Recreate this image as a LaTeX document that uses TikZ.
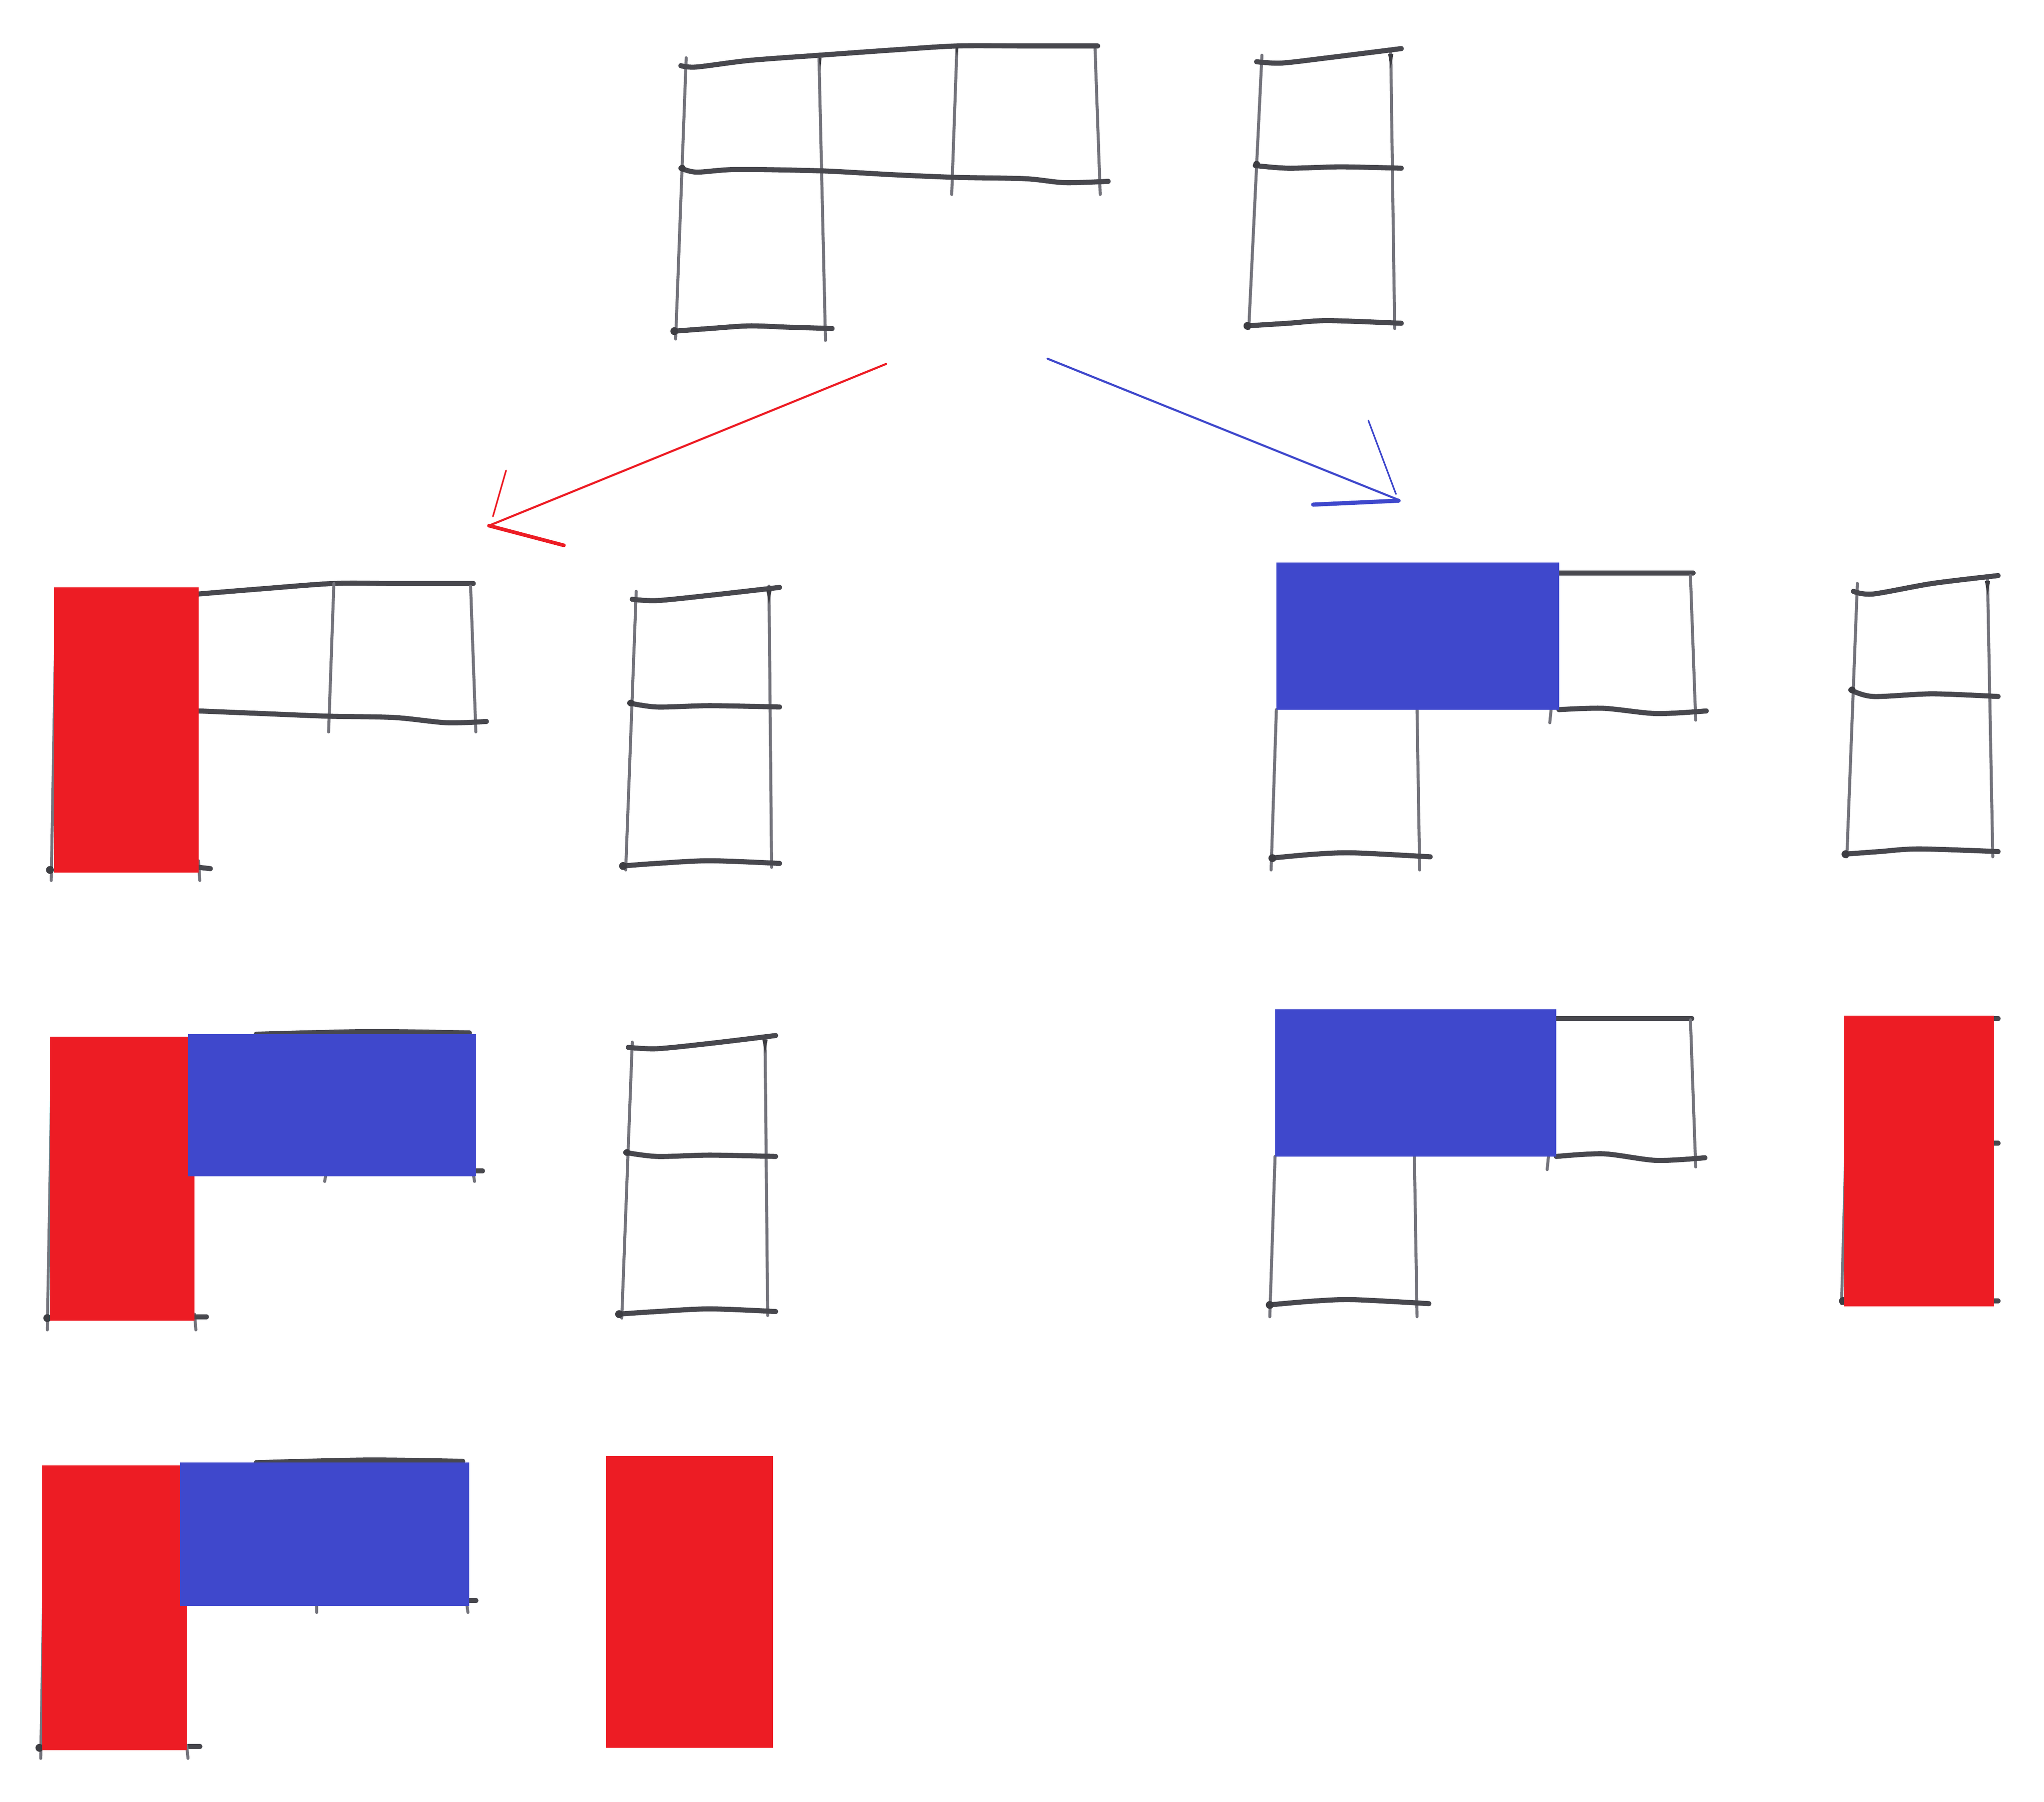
\documentclass[tikz,border=0pt]{standalone}
\usetikzlibrary{calc}
\definecolor{pencil}{HTML}{48484E}
\definecolor{pencilv}{HTML}{74747C}
\definecolor{pred}{HTML}{ED1C24}
\definecolor{pblue}{HTML}{3F48CC}
\tikzset{
  hline/.style={draw=pencil,line width=1.1pt,line cap=round,line join=round},
  vline/.style={draw=pencilv,line width=0.65pt,line cap=round},
  blob/.style={fill=pencil!85!black,draw=none},
  redbox/.style={fill=pred,draw=none},
  bluebox/.style={fill=pblue,draw=none},
  redarrow/.style={draw=pred,line width=0.45pt,line cap=round},
  bluearrow/.style={draw=pblue,line width=0.45pt,line cap=round},
}
\begin{document}
\begin{tikzpicture}[x=0.01cm,y=-0.01cm]
\useasboundingbox (0,0) rectangle (1555,1371);

% ---------- Figure A (top L shape)
\draw[vline] (522,44) -- (514,258);
\draw[vline] (623,42) -- (628,259);
\draw[vline] (728,35) -- (724,148);
\draw[vline] (833,35) -- (837,148);
\draw[hline] plot[smooth] coordinates {(518,50) (530,51) (570,46) (624,42) (680,38) (728,35) (780,35) (835,35)};
\draw[hline] plot[smooth] coordinates {(518,128) (530,131) (560,129) (624,130) (680,133) (728,135) (780,136) (810,139) (843,138)};
\draw[hline] plot[smooth] coordinates {(513,252) (540,250) (570,248) (600,249) (633,250)};
\fill[blob] (519,128) circle (2.6);
\fill[blob] (513,252) circle (3);
\fill[blob] (623,44) -- (625,44) -- (624,54) -- cycle;
\fill[blob] (727,36) -- (729,36) -- (728,44) -- cycle;

% ---------- Figure B (top column)
\draw[vline] (960,42) -- (950,250);
\draw[vline] (1058,38) -- (1061,250);
\draw[hline] plot[smooth] coordinates {(956,47) (975,48) (1010,44) (1066,37)};
\draw[hline] plot[smooth] coordinates {(955,126) (980,128) (1020,127) (1066,128)};
\draw[hline] plot[smooth] coordinates {(948,248) (980,246) (1010,244) (1066,246)};
\fill[blob] (956,125) circle (2.6);
\fill[blob] (949,248) circle (3);
\fill[blob] (1056,41) -- (1060,41) -- (1058,52) -- cycle;

% ---------- Arrows
\coordinate (rs) at (674,277);
\coordinate (rt) at (372,400);
\coordinate (rb1) at (385,358);
\coordinate (rb1e) at (375,393);
\coordinate (rb2) at (429,415);
\draw[redarrow] (rs) -- (rt);
\draw[redarrow,line width=0.35pt] (rb1) -- (rb1e);
\draw[redarrow,line width=0.8pt] (rt) -- (rb2);

\coordinate (bs) at (797,273);
\coordinate (bt) at (1063,380);
\coordinate (bb1) at (1041,320);
\coordinate (bb1e) at (1062,376);
\coordinate (bb2) at (999,384);
\coordinate (bb2e) at (1064,381);
\draw[bluearrow] (bs) -- (bt);
\draw[bluearrow,line width=0.35pt] (bb1) -- (bb1e);
\draw[bluearrow,line width=0.9pt] (bb2) -- (bb2e);

% ---------- Figure C
\draw[hline] plot[smooth] coordinates {(151,452) (200,448) (254,444) (300,444) (360,444)};
\draw[vline] (254,444) -- (250,557);
\draw[vline] (358,446) -- (362,557);
\draw[hline] plot[smooth] coordinates {(151,541) (200,543) (250,545) (300,546) (340,550) (370,549)};
\draw[vline] (43,450) -- (39,670);
\draw[vline] (151,655) -- (152,670);
\draw[hline] (151,660) -- (160,661);
\fill[blob] (38,662) circle (3);
\fill[redbox] (41,447) rectangle (151,664);

% ---------- Figure D
\draw[vline] (484,450) -- (476,662);
\draw[vline] (585,446) -- (587,660);
\draw[hline] plot[smooth] coordinates {(481,456) (500,457) (540,453) (593,447)};
\draw[hline] plot[smooth] coordinates {(479,535) (500,538) (540,537) (593,538)};
\draw[hline] plot[smooth] coordinates {(473,659) (500,657) (540,655) (593,657)};
\fill[blob] (480,535) circle (2.6);
\fill[blob] (474,659) circle (3);
\fill[blob] (583,449) -- (587,449) -- (585,460) -- cycle;

% ---------- Figure E
\draw[hline] plot[smooth] coordinates {(1186,436) (1240,436) (1288,436)};
\draw[vline] (1286,438) -- (1290,548);
\draw[hline] plot[smooth] coordinates {(1186,540) (1220,539) (1260,543) (1298,541)};
\draw[vline] (1180,540) -- (1179,550);
\draw[vline] (971,540) -- (967,662);
\draw[vline] (1078,540) -- (1080,662);
\draw[hline] plot[smooth] coordinates {(967,653) (1000,650) (1030,649) (1088,652)};
\fill[blob] (968,653) circle (3);
\fill[bluebox] (971,428) rectangle (1186,540);

% ---------- Figure F
\draw[vline] (1413,444) -- (1405,652);
\draw[vline] (1512,440) -- (1516,652);
\draw[hline] plot[smooth] coordinates {(1410,450) (1425,452) (1470,444) (1520,438)};
\draw[hline] plot[smooth] coordinates {(1408,525) (1425,530) (1470,528) (1520,530)};
\draw[hline] plot[smooth] coordinates {(1403,650) (1430,648) (1460,646) (1520,648)};
\fill[blob] (1409,525) circle (2.6);
\fill[blob] (1404,650) circle (3);
\fill[blob] (1510,442) -- (1514,442) -- (1512,453) -- cycle;

% ---------- Figure G
\draw[hline] plot[smooth] coordinates {(195,787) (280,785) (357,786)};
\draw[vline] (248,893) -- (247,899);
\draw[vline] (360,893) -- (361,899);
\draw[hline] (360,891) -- (367,891);
\draw[vline] (40,792) -- (36,1012);
\draw[vline] (148,1000) -- (149,1012);
\draw[hline] (148,1002) -- (157,1002);
\fill[blob] (36,1003) circle (3);
\fill[redbox] (38,789) rectangle (148,1005);
\fill[bluebox] (143,787) rectangle (362,895);

% ---------- Figure H
\draw[vline] (481,793) -- (473,1003);
\draw[vline] (582,789) -- (584,1001);
\draw[hline] plot[smooth] coordinates {(478,797) (500,798) (540,794) (590,788)};
\draw[hline] plot[smooth] coordinates {(476,877) (500,880) (540,879) (590,880)};
\draw[hline] plot[smooth] coordinates {(470,1000) (500,998) (540,996) (590,998)};
\fill[blob] (477,877) circle (2.6);
\fill[blob] (471,1000) circle (3);
\fill[blob] (580,791) -- (584,791) -- (582,802) -- cycle;

% ---------- Figure I
\draw[hline] plot[smooth] coordinates {(1184,775) (1240,775) (1287,775)};
\draw[vline] (1286,776) -- (1290,888);
\draw[hline] plot[smooth] coordinates {(1184,880) (1220,878) (1260,883) (1297,881)};
\draw[vline] (1178,880) -- (1177,890);
\draw[vline] (970,880) -- (966,1002);
\draw[vline] (1076,880) -- (1078,1002);
\draw[hline] plot[smooth] coordinates {(965,993) (1000,990) (1030,989) (1087,992)};
\fill[blob] (966,993) circle (3);
\fill[bluebox] (970,768) rectangle (1184,880);

% ---------- Figure J
\draw[vline] (1407,776) -- (1401,992);
\draw[hline] (1515,775) -- (1520,775);
\draw[hline] (1515,870) -- (1520,870);
\draw[hline] (1515,990) -- (1520,990);
\fill[blob] (1402,990) circle (3);
\fill[redbox] (1403,773) rectangle (1517,994);

% ---------- Figure K
\draw[hline] plot[smooth] coordinates {(195,1113) (280,1111) (352,1112)};
\draw[hline] (357,1218) -- (362,1218);
\draw[vline] (241,1220) -- (241,1227);
\draw[vline] (355,1220) -- (356,1227);
\draw[hline] (142,1329) -- (152,1329);
\draw[vline] (35,1118) -- (31,1338);
\draw[vline] (142,1328) -- (143,1338);
\fill[blob] (30,1330) circle (3);
\fill[redbox] (32,1115) rectangle (142,1332);
\fill[bluebox] (137,1113) rectangle (357,1222);

% ---------- Figure L
\fill[redbox] (461,1108) rectangle (588,1330);
\end{tikzpicture}
\end{document}
